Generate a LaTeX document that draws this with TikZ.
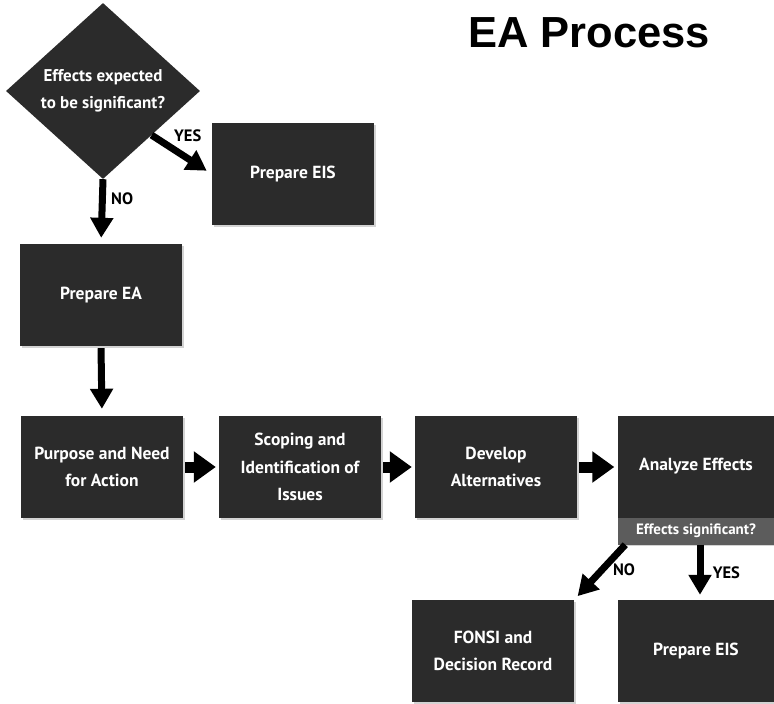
\documentclass[tikz,border=0pt]{standalone}
\usepackage{fontspec}
\setmainfont{PT Sans}
\newfontfamily\titlefont{Liberation Sans}
\usetikzlibrary{shapes.geometric,arrows.meta,shadows}

\definecolor{boxfill}{HTML}{2B2B2B}
\definecolor{bandfill}{HTML}{5C5C5C}

\begin{document}
\begin{tikzpicture}[x=1pt, y=-1pt,
		box/.style={fill=boxfill, text=white, align=center, inner sep=0pt,
			minimum width=162pt, minimum height=102pt, font=\bfseries\fontsize{17.5}{27.5}\selectfont,
			drop shadow={opacity=0.35, shadow xshift=2pt, shadow yshift=-2pt}},
		arr/.style={line width=7pt, -{Triangle[length=20pt, width=22pt]}},
		harr/.style={line width=11pt, -{Triangle[length=22pt, width=30pt]}, shorten <=2pt, shorten >=3pt},
		lbl/.style={font=\bfseries\fontsize{16.5}{16.5}\selectfont}]
		\useasboundingbox (0,0) rectangle (774,704);
		\node[font=\titlefont\bfseries\fontsize{43.5}{43.5}\selectfont] (title) at (589,33) {EA Process};
		
		\node[diamond, fill=boxfill, text=white, align=center, inner sep=0pt, aspect=1.1,
			minimum width=194pt, minimum height=176pt, font=\bfseries\fontsize{17}{27}\selectfont] (dec) at (103,91)
			{Effects expected\\to be significant?};
		\node[box] (eis1) at (293,174) {Prepare EIS};
		\node[box] (ea) at (101,295) {Prepare EA};
		
		\node[box] (purpose) at (102,467) {Purpose and Need\\for Action};
		\node[box] (scope) at (300,467) {Scoping and\\Identification of\\Issues};
		\node[box] (alt) at (496,467) {Develop\\Alternatives};
		\node[box, minimum width=157pt, minimum height=128pt] (an) at (696,480) {};
		\node[text=white, font=\bfseries\fontsize{17.5}{27}\selectfont] (antext) at (696,466) {Analyze Effects};
		\node[fill=bandfill, text=white, minimum width=157pt, minimum height=27pt, inner sep=0pt,
			font=\bfseries\fontsize{15}{15}\selectfont] (sig) at (696,531) {Effects significant?};
		
		\node[box] (fonsi) at (493,651) {FONSI and\\Decision Record};
		\node[box, minimum width=157pt] (eis2) at (696,651) {Prepare EIS};
		
		\draw[arr, shorten >=6pt] (dec.south east) -- (eis1.west) node[lbl, pos=0.5, above=6pt, xshift=6pt] {YES};
		\draw[arr, shorten >=6pt] (dec.south) -- (ea.north) node[lbl, pos=0.3, right=2pt] {NO};
		\draw[arr, shorten <=2pt, shorten >=7pt] (ea.south) -- (purpose.north);
		
		\draw[harr] (purpose.east) -- (scope.west);
		\draw[harr] (scope.east) -- (alt.west);
		\draw[harr] (alt.east) -- (an.west |- purpose.east);
		
		\draw[arr, shorten >=5pt] ([xshift=8pt]sig.south west) -- (fonsi.north east) node[lbl, pos=0.45, right=4pt] {NO};
		\draw[arr, shorten >=5pt] ([xshift=4pt]sig.south) -- ([xshift=4pt]eis2.north) node[lbl, pos=0.5, right=6pt] {YES};
	\end{tikzpicture}
\end{document}
